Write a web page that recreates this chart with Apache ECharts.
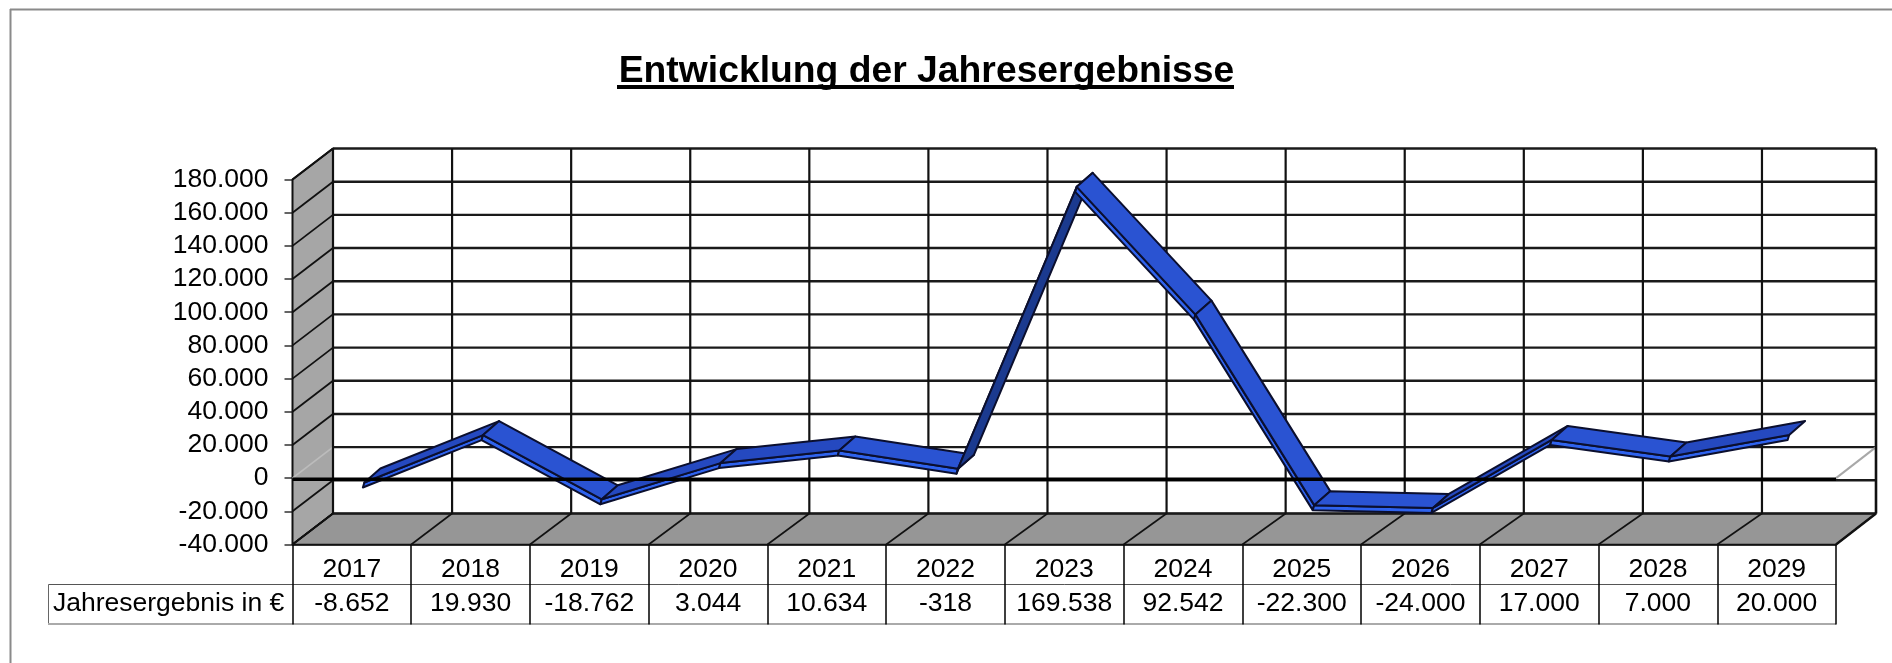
<!DOCTYPE html>
<html><head><meta charset="utf-8">
<style>html,body{margin:0;padding:0;background:#fff}#c{width:1892px;height:663px}</style>
<script src="https://cdn.jsdelivr.net/npm/echarts@6/dist/echarts.min.js"></script>
</head><body><div id="c"></div>
<script>
const years = ['2017','2018','2019','2020','2021','2022','2023','2024','2025','2026','2027','2028','2029'];
const results = [-8652,19930,-18762,3044,10634,-318,169538,92542,-22300,-24000,17000,7000,20000];
const titleText = 'Entwicklung der Jahresergebnisse';
const rowLabel = 'Jahresergebnis in €';
const yMin = -40000, yMax = 180000, yStep = 20000;

const FONT = '"Liberation Sans", Arial, sans-serif';
const L = 292.5, R = 1836, T = 179.5, B = 544.5;
const DEPTH = [40.5, -31];          // front plane to back wall
const BACK_RIGHT = 1876;
const deDE = v => String(v).replace(/\B(?=(\d{3})+(?!\d))/g, '.');

const line = (a, b, stroke, lineWidth) => ({type:'line', shape:{x1:a[0],y1:a[1],x2:b[0],y2:b[1]}, style:{stroke, lineWidth, fill:null}});
const poly = (points, fill, stroke, lineWidth) => ({type:'polygon', shape:{points}, style:{fill, stroke, lineWidth, lineJoin:'round'}});

function renderFrame(params, api){
  const band = api.size([1,0])[0];
  const x0 = api.coord([0,0])[0] - band/2;
  const yOf = v => api.coord([0,v])[1];
  const frontX = k => x0 + band*k;
  const backX = k => k === years.length ? BACK_RIGHT : frontX(k) + DEPTH[0] + k*0.35;
  const xEnd = frontX(years.length);
  const kids = [];
  // side wall and floor
  kids.push(poly([[x0,yOf(yMax)],[x0+DEPTH[0],yOf(yMax)+DEPTH[1]],[x0+DEPTH[0],yOf(yMin)+DEPTH[1]],[x0,yOf(yMin)]],'#a6a6a6','#111',2));
  kids.push(poly([[x0,yOf(yMin)],[x0+DEPTH[0],yOf(yMin)+DEPTH[1]],[BACK_RIGHT,yOf(yMin)+DEPTH[1]],[xEnd,yOf(yMin)]],'#969696','#111',1.5));
  // horizontal lines of the back wall plus wall diagonals
  for (let v = yMin; v <= yMax; v += yStep) {
    const y = yOf(v);
    const zero = v === 0;
    kids.push(line([x0,y],[x0+DEPTH[0],y+DEPTH[1]], zero ? '#bcbcbc' : '#111', 1.8));
    kids.push(line([x0+DEPTH[0],y+DEPTH[1]],[BACK_RIGHT,y+DEPTH[1]],'#1a1a1a',2.4));
    if (zero) kids.push(line([xEnd,y],[BACK_RIGHT,y+DEPTH[1]],'#a8a8a8',2));
  }
  // vertical lines of the back wall plus floor diagonals
  for (let k = 0; k <= years.length; k++) {
    kids.push(line([backX(k),yOf(yMax)+DEPTH[1]],[backX(k),yOf(yMin)+DEPTH[1]],'#111',k===years.length?2.6:2.2));
    kids.push(line([frontX(k),yOf(yMin)],[backX(k),yOf(yMin)+DEPTH[1]],'#111',k===years.length?2.4:1.6));
  }
  return {type:'group', children:kids};
}

function shade(dv){
  if (dv <= 0) return '#2a53d2';
  if (dv > 100000) return '#1b3a8f';
  return '#2549c0';
}
const NEAR = [12.5,-10], FAR = [28.5,-24], THICK = [-1.5,5];
function renderRibbon(params, api){
  const i = api.value(0);
  if (i >= results.length-1) return;
  const a = api.coord([i, api.value(1)]);
  const b = api.coord([i+1, results[i+1]]);
  const off = (p,d,t) => t ? [p[0]+d[0]+t[0], p[1]+d[1]+t[1]] : [p[0]+d[0], p[1]+d[1]];
  const edge = '#0b0f2e';
  return {type:'group', children:[
    poly([off(a,NEAR),off(b,NEAR),off(b,NEAR,THICK),off(a,NEAR,THICK)],'#2f63ee',edge,2),
    poly([off(a,NEAR),off(b,NEAR),off(b,FAR),off(a,FAR)],shade(results[i+1]-results[i]),edge,2)
  ]};
}
function renderZero(params, api){
  const band = api.size([1,0])[0];
  const p = api.coord([0,0]);
  return line([p[0]-band/2,p[1]+1],[p[0]-band/2+band*years.length,p[1]+1],'#000',3.5);
}

const chart = echarts.init(document.getElementById('c'), null, {renderer:'canvas'});
chart.setOption({
  animation:false,
  backgroundColor:'#fff',
  title:{text:titleText,left:921.5,top:48,textAlign:'center',textStyle:{fontFamily:FONT,fontWeight:'bold',fontSize:37.3,color:'#000'}},
  grid:{left:L,top:T,width:R-L,height:B-T,containLabel:false},
  xAxis:[
    {type:'category',data:years,position:'bottom',
     axisLine:{show:true,onZero:false,lineStyle:{color:'#000',width:1.5}},
     axisTick:{show:true,alignWithLabel:false,length:40,lineStyle:{color:'#000',width:1.5}},
     axisLabel:{show:true,interval:0,margin:12,fontFamily:FONT,fontSize:26.5,color:'#000'},
     splitLine:{show:false}},
    {type:'category',data:results.map(deDE),position:'bottom',offset:40,
     axisLine:{show:true,onZero:false,lineStyle:{color:'#555',width:1}},
     axisTick:{show:true,alignWithLabel:false,length:40,lineStyle:{color:'#000',width:1.5}},
     axisLabel:{show:true,interval:0,margin:6,fontFamily:FONT,fontSize:26.5,color:'#000'},
     splitLine:{show:false}}
  ],
  yAxis:{type:'value',min:yMin,max:yMax,interval:yStep,
     axisLine:{show:true,lineStyle:{color:'#000',width:2}},
     axisTick:{show:true,length:8,lineStyle:{color:'#333',width:1.5}},
     axisLabel:{margin:24,fontFamily:FONT,fontSize:26.5,color:'#000',formatter:deDE},
     splitLine:{show:false}},
  series:[
    {type:'custom',name:'Rahmen',z:1,silent:true,renderItem:renderFrame,data:[[0,0]],encode:{x:0,y:1},clip:false},
    {type:'custom',name:rowLabel,z:3,silent:true,renderItem:renderRibbon,data:results.map((v,i)=>[i,v]),encode:{x:0,y:1},clip:false},
    {type:'custom',name:'Nulllinie',z:4,silent:true,renderItem:renderZero,data:[[0,0]],encode:{x:0,y:1},clip:false}
  ],
  graphic:[
    {type:'line',shape:{x1:10,y1:9.5,x2:1892,y2:9.5},style:{stroke:'#8a8a8a',lineWidth:2}},
    {type:'line',shape:{x1:10.5,y1:9,x2:10.5,y2:663},style:{stroke:'#8a8a8a',lineWidth:2}},
    {type:'rect',shape:{x:617,y:85,width:617,height:4},style:{fill:'#000'}},
    {type:'line',shape:{x1:48.5,y1:584.5,x2:292,y2:584.5},style:{stroke:'#555',lineWidth:1}},
    {type:'line',shape:{x1:48.5,y1:584.5,x2:48.5,y2:624},style:{stroke:'#666',lineWidth:1}},
    {type:'line',shape:{x1:48,y1:624,x2:1836,y2:624},style:{stroke:'#aaaaaa',lineWidth:2}},
    {type:'text',x:53,y:604,style:{text:rowLabel,fontFamily:FONT,fontSize:26.5,fill:'#000',textAlign:'left',textVerticalAlign:'middle'}}
  ]
});
</script></body></html>
